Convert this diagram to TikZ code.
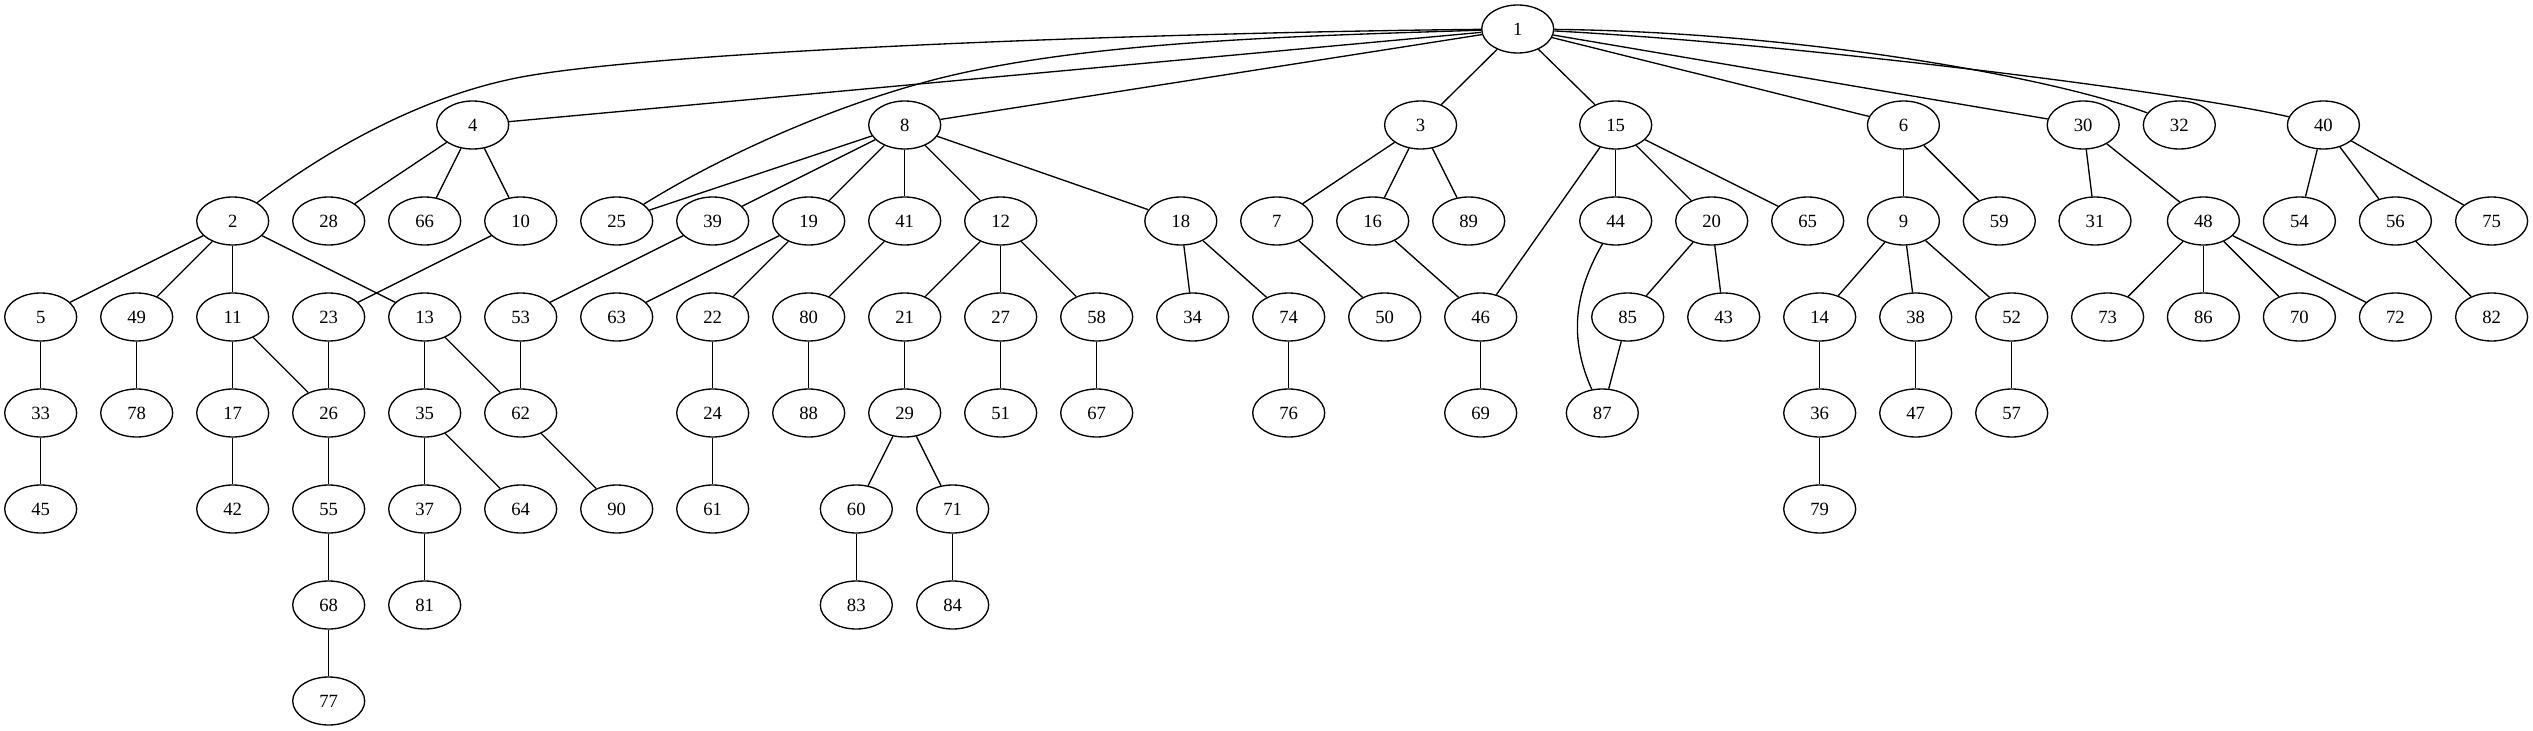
\documentclass[tikz,border=0pt]{standalone}
\usepackage{fontspec}
\setmainfont{Liberation Serif}
\usetikzlibrary{shapes.geometric}
\begin{document}
\begin{tikzpicture}[x=0.75pt,y=-0.75pt,
  nd/.style={draw,ellipse,line width=1pt,minimum width=54pt,minimum height=36pt,inner sep=0pt,font=\fontsize{14}{16}\selectfont},
  ed/.style={line width=1pt}]
\useasboundingbox (0,0) rectangle (2533,731);
% row 0
\node[nd] (n1) at (1517.7,29) {1};
% row 1
\foreach \n/\x in {4/472.7,8/904.7,3/1420.6,15/1615.7,6/1903.4,30/2083.2,32/2179.3,40/2323.4}
  \node[nd] (n\n) at (\x,125) {\n};
% row 2
\foreach \n/\x in {2/232.7,28/328.7,66/424.7,10/520.7,25/616.7,39/712.7,19/808.7,41/904.7,12/1000.7,18/1180.8,7/1276.7,16/1372.7,89/1468.7,44/1615.7,20/1711.7,65/1807.7,9/1903.4,59/1999.3,31/2095,48/2203.4,54/2299.4,56/2395.4,75/2491.6}
  \node[nd] (n\n) at (\x,221) {\n};
% row 3
\foreach \n/\x in {5/40.7,49/136.7,11/232.7,23/328.7,13/424.7,53/520.7,63/616.7,22/712.7,80/808.7,21/904.7,27/1000.7,58/1096.7,34/1192.7,74/1288.7,50/1384.7,46/1480.7,85/1627.7,43/1723.7,14/1819.7,38/1915.7,52/2011.7,73/2107.6,86/2203.4,70/2299.4,72/2395.4,82/2491.6}
  \node[nd] (n\n) at (\x,317) {\n};
% row 4
\foreach \n/\x in {33/40.7,78/136.7,17/232.7,26/328.7,35/424.7,62/520.7,24/712.7,88/808.7,29/904.7,51/1000.7,67/1096.7,76/1288.7,69/1480.7,87/1602.3,36/1819.7,47/1915.7,57/2011.7}
  \node[nd] (n\n) at (\x,413) {\n};
% row 5
\foreach \n/\x in {45/40.7,42/232.7,55/328.7,37/424.7,64/520.7,90/616.7,61/712.7,60/856.3,71/952.7,79/1819.7}
  \node[nd] (n\n) at (\x,509) {\n};
% row 6
\foreach \n/\x in {68/328.7,81/424.7,83/856.3,84/952.7}
  \node[nd] (n\n) at (\x,605) {\n};
% row 7
\node[nd] (n77) at (328.7,701) {77};
% straight edges
\foreach \a/\b in {1/4,1/8,1/3,1/15,1/6,1/30,
  4/28,4/66,4/10,
  8/25,8/39,8/19,8/41,8/12,8/18,
  3/7,3/16,3/89,
  15/46,15/44,15/20,15/65,
  6/9,6/59,30/31,30/48,40/54,40/56,40/75,
  2/5,2/49,2/11,2/13,
  10/23,39/53,19/63,19/22,41/80,
  12/21,12/27,12/58,18/34,18/74,7/50,16/46,
  20/85,20/43,9/14,9/38,9/52,
  48/73,48/86,48/70,48/72,56/82,
  5/33,49/78,11/17,11/26,23/26,13/35,13/62,53/62,22/24,80/88,
  21/29,27/51,58/67,74/76,46/69,85/87,14/36,38/47,52/57,
  33/45,17/42,26/55,35/37,35/64,62/90,24/61,29/60,29/71,36/79,
  55/68,37/81,60/83,71/84,68/77}
  \draw[ed] (n\a) -- (n\b);
% curved edges
\coordinate (k12) at (533,75);
\coordinate (k125) at (933,80);
\draw[ed] (n1) .. controls (1200,32) and (700,48) .. (k12) .. controls (433,91) and (335,144) .. (n2);
\draw[ed] (n1) .. controls (1300,36) and (1083,41) .. (k125) .. controls (833,106) and (723,155) .. (n25);
\draw[ed] (n1) .. controls (1800,32) and (2052,77) .. (n32);
\draw[ed] (n1) .. controls (1800,44) and (2188,93) .. (n40);
\draw[ed] (n44) .. controls (1570,300) and (1572,345) .. (n87);
\end{tikzpicture}
\end{document}
